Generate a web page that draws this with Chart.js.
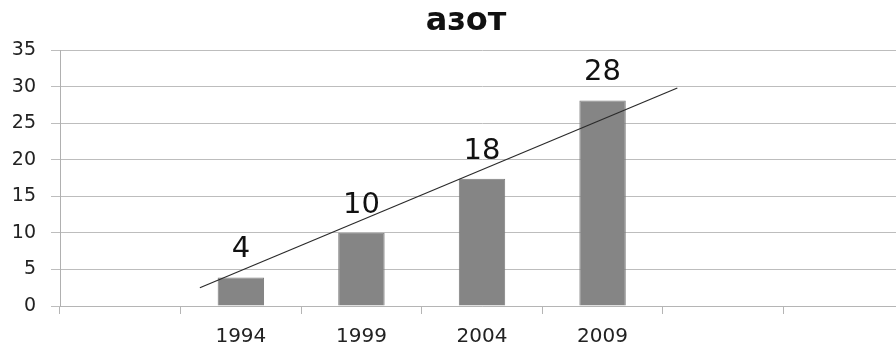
<!DOCTYPE html>
<html>
<head>
<meta charset="utf-8">
<script src="https://cdn.jsdelivr.net/npm/chart.js@4"></script>
<style>
  html, body { margin: 0; padding: 0; background: #fff; overflow: hidden; }
  #wrap { width: 904px; height: 346px; }
</style>
</head>
<body>
<div id="wrap"><canvas id="azotChart" width="904" height="346"></canvas></div>
<script>
// chart data
const chartTitle = "азот";
const years = ["", "1994", "1999", "2004", "2009", "", ""];
const amounts = [null, 3.9, 10, 17.4, 28.1, null, null];
const amountLabels = ["", "4", "10", "18", "28", "", ""];
// hand-drawn trend line: ends given as category position / value
const trendX = [0.66, 4.62];
const trendY = [2.5, 29.8];

const FONT = "'DejaVu Sans', sans-serif";

// draws the value labels above the bars and the title
const labelsPlugin = {
    id: "azotLabels",
    afterDatasetsDraw(chart) {
        const ctx = chart.ctx;
        const meta = chart.getDatasetMeta(0);
        ctx.save();
        ctx.fillStyle = "#111";
        ctx.font = "29px " + FONT;
        ctx.textAlign = "center";
        ctx.textBaseline = "alphabetic";
        meta.data.forEach((bar, i) => {
            if (amounts[i] == null) return;
            ctx.fillText(amountLabels[i], bar.x, bar.y - 20);
        });
        ctx.font = "bold 32px " + FONT;
        ctx.textBaseline = "middle";
        ctx.fillText(chartTitle, 466, 22);
        ctx.restore();
    },
};

const ctx = document.getElementById("azotChart").getContext("2d");
new Chart(ctx, {
    type: "bar",
    data: {
        labels: years,
        datasets: [
            {
                type: "bar",
                data: amounts,
                backgroundColor: "#858585",
                borderColor: "#7d7d7d",
                borderWidth: 1,
                grouped: false,
                barPercentage: 0.385,
                categoryPercentage: 1,
                order: 2,
            },
            {
                type: "line",
                xAxisID: "xt",
                data: trendX.map((x, i) => ({ x: x, y: trendY[i] })),
                borderColor: "#2a2a2a",
                borderWidth: 1.2,
                pointRadius: 0,
                fill: false,
                order: 1,
            },
        ],
    },
    options: {
        responsive: false,
        animation: false,
        devicePixelRatio: 1,
        layout: { padding: { top: 50, right: 0, left: 0, bottom: 0 } },
        plugins: {
            legend: { display: false },
            title: { display: false },
            tooltip: { enabled: false },
        },
        scales: {
            x: {
                type: "category",
                offset: true,
                grid: {
                    offset: true,
                    drawOnChartArea: false,
                    color: "#b5b5b5",
                    tickLength: 8,
                },
                border: { color: "#b5b5b5" },
                ticks: {
                    color: "#222",
                    font: { family: FONT, size: 20 },
                    padding: 11,
                    maxRotation: 0,
                },
                afterFit(scale) {
                    scale.height = 40;
                },
            },
            xt: {
                type: "linear",
                display: false,
                offset: false,
                grid: { offset: false },
                min: -0.5,
                max: 6.5,
            },
            y: {
                min: 0,
                max: 35,
                ticks: {
                    stepSize: 5,
                    color: "#222",
                    font: { family: FONT, size: 19 },
                    padding: 15,
                },
                grid: {
                    color: "#bdbdbd",
                    tickLength: 9,
                },
                border: { color: "#b0b0b0" },
                afterFit(scale) {
                    scale.width = 60;
                },
            },
        },
    },
    plugins: [labelsPlugin],
});
</script>
</body>
</html>
